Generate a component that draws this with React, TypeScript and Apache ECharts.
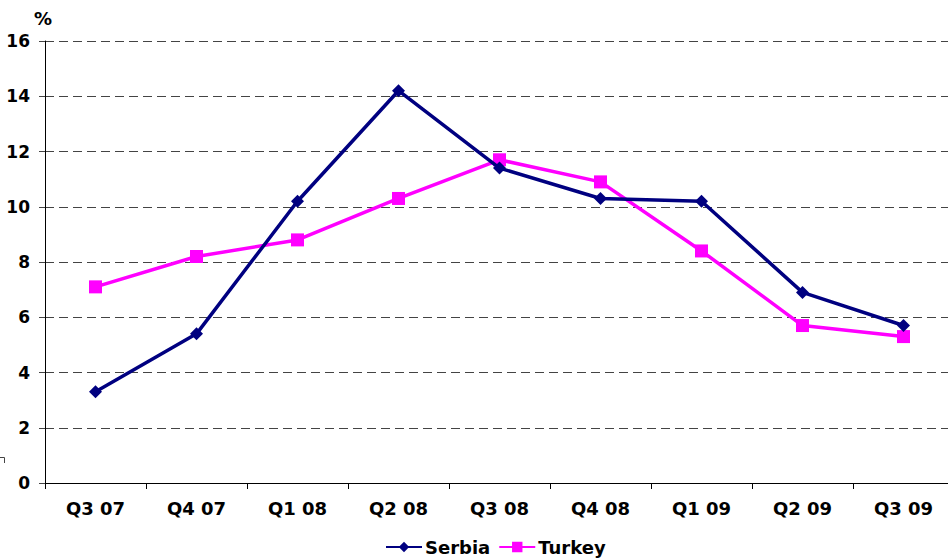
import React, { useEffect, useRef } from "react";
import * as echarts from "echarts";

const quarters = ["Q3 07", "Q4 07", "Q1 08", "Q2 08", "Q3 08", "Q4 08", "Q1 09", "Q2 09", "Q3 09"];
const serbia = [3.3, 5.4, 10.2, 14.2, 11.4, 10.3, 10.2, 6.9, 5.7];
const turkey = [7.1, 8.2, 8.8, 10.3, 11.7, 10.9, 8.4, 5.7, 5.3];

const FONT = "'DejaVu Sans', Verdana, sans-serif";

export default function App() {
  const ref = useRef<HTMLDivElement>(null);

  useEffect(() => {
    if (!ref.current) return;
    const chart = echarts.init(ref.current, null, { renderer: "svg" });
    chart.setOption({
      animation: false,
      backgroundColor: "#ffffff",
      // plot area runs slightly past the right edge of the canvas
      grid: { left: 45, width: 909, top: 41, height: 442, containLabel: false, outerBoundsMode: "none" },
      graphic: [
        {
          type: "text",
          left: 34,
          top: 9,
          style: { text: "%", font: `bold 18px ${FONT}`, fill: "#000" },
        },
        {
          type: "polyline",
          shape: { points: [[0, 457.5], [4.5, 457.5], [4.5, 463]] },
          style: { stroke: "#444", lineWidth: 1, fill: "none" },
        },
      ],
      legend: {
        top: 538,
        left: 385,
        padding: 0,
        itemWidth: 36,
        itemHeight: 13,
        itemGap: 8,
        textStyle: { fontFamily: FONT, fontWeight: "bold", fontSize: 18, color: "#000", padding: [0, 0, 0, -2] },
        data: ["Serbia", "Turkey"],
      },
      xAxis: {
        type: "category",
        data: quarters,
        boundaryGap: true,
        axisLine: { lineStyle: { color: "#000", width: 1 } },
        axisTick: { show: true, length: 6, lineStyle: { color: "#000" } },
        axisLabel: { fontFamily: FONT, fontWeight: "bold", fontSize: 18, color: "#000", margin: 16 },
        splitLine: { show: false },
      },
      yAxis: {
        type: "value",
        min: 0,
        max: 16,
        interval: 2,
        axisLine: { show: true, lineStyle: { color: "#000", width: 1 } },
        axisTick: { show: true, length: 6, lineStyle: { color: "#444" } },
        axisLabel: { fontFamily: FONT, fontWeight: "bold", fontSize: 17, color: "#000", margin: 15 },
        splitLine: { show: true, lineStyle: { color: "#444", type: [9, 5], width: 1 } },
      },
      series: [
        {
          name: "Serbia",
          type: "line",
          data: serbia,
          symbol: "diamond",
          symbolSize: 13,
          itemStyle: { color: "#000080" },
          lineStyle: { color: "#000080", width: 3.5 },
          z: 3,
        },
        {
          name: "Turkey",
          type: "line",
          data: turkey,
          symbol: "rect",
          symbolSize: 13,
          itemStyle: { color: "#ff00ff" },
          lineStyle: { color: "#ff00ff", width: 3.5 },
          z: 2,
        },
      ],
    });
    return () => chart.dispose();
  }, []);

  return (
    <div
      ref={ref}
      style={{ position: "absolute", left: 0, top: 0, width: 948, height: 559, overflow: "hidden" }}
    />
  );
}
